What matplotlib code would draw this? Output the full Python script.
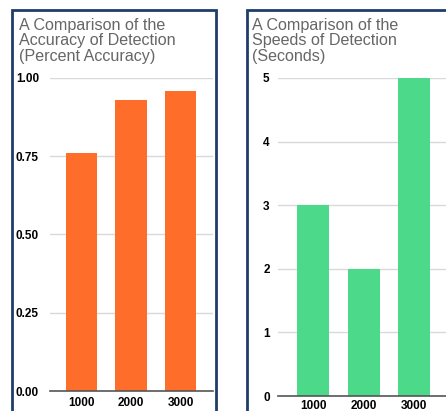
import matplotlib.pyplot as plt
from matplotlib.patches import Rectangle

plt.rcParams["font.family"] = ["Liberation Sans", "DejaVu Sans"]

sizes = ["1000", "2000", "3000"]
accuracy = [0.76, 0.93, 0.96]
speeds = [3, 2, 5]

acc_ticks = [0.0, 0.25, 0.5, 0.75, 1.0]
acc_labels = ["0.00", "0.25", "0.50", "0.75", "1.00"]
speed_ticks = [0, 1, 2, 3, 4, 5]

acc_title = ["A Comparison of the", "Accuracy of Detection", "(Percent Accuracy)"]
speed_title = ["A Comparison of the", "Speeds of Detection", "(Seconds)"]

W, H = 446, 411
fig = plt.figure(figsize=(W / 100, H / 100), dpi=100)
fig.patch.set_facecolor("white")


def box(x0, y0, x1, y1):
    # pixel coords (top-left origin) -> figure fraction
    return [x0 / W, 1 - y1 / H, (x1 - x0) / W, (y1 - y0) / H]


# panel borders
border = "#1f3d6b"
for x0, x1 in [(12, 216), (247, 470)]:
    fig.patches.append(Rectangle((x0 / W, -0.1), (x1 - x0) / W, 1.1 - 10 / H,
                                 transform=fig.transFigure, fill=False,
                                 edgecolor=border, linewidth=2))

# titles, one line at a time so the spacing matches
title_col = "#666666"
for x, lines in [(19, acc_title), (252, speed_title)]:
    for y, line in zip([30, 45.5, 61], lines):
        fig.text(x / W, 1 - y / H, line, ha="left", va="baseline",
                 fontsize=11.6, color=title_col)


def style(ax):
    for s in ["top", "right", "left"]:
        ax.spines[s].set_visible(False)
    ax.spines["bottom"].set_color("#555555")
    ax.spines["bottom"].set_linewidth(1.2)
    ax.grid(axis="y", color="#d9d9d9", linewidth=1)
    ax.set_axisbelow(True)
    ax.tick_params(length=0, labelsize=8.5)
    for t in ax.get_xticklabels() + ax.get_yticklabels():
        t.set_fontweight("bold")
    ax.set_facecolor("none")


ax1 = fig.add_axes(box(50, 78, 213, 391))
ax1.bar(range(3), accuracy, width=0.63, color="#ff6d2a")
ax1.set_xlim(-0.636, 2.657)
ax1.set_ylim(0, 1)
ax1.set_yticks(acc_ticks)
ax1.set_yticklabels(acc_labels)
ax1.set_xticks(range(3))
ax1.set_xticklabels(sizes)
ax1.tick_params(axis="y", pad=8)
ax1.tick_params(axis="x", pad=4)
style(ax1)

ax2 = fig.add_axes(box(278, 78, 446, 396))
ax2.bar(range(3), speeds, width=0.63, color="#4dd98a")
ax2.set_xlim(-0.693, 2.63)
ax2.set_ylim(0, 5)
ax2.set_yticks(speed_ticks)
ax2.set_xticks(range(3))
ax2.set_xticklabels(sizes)
ax2.tick_params(axis="y", pad=6)
ax2.tick_params(axis="x", pad=3)
style(ax2)

fig.savefig("out.png", dpi=100)
